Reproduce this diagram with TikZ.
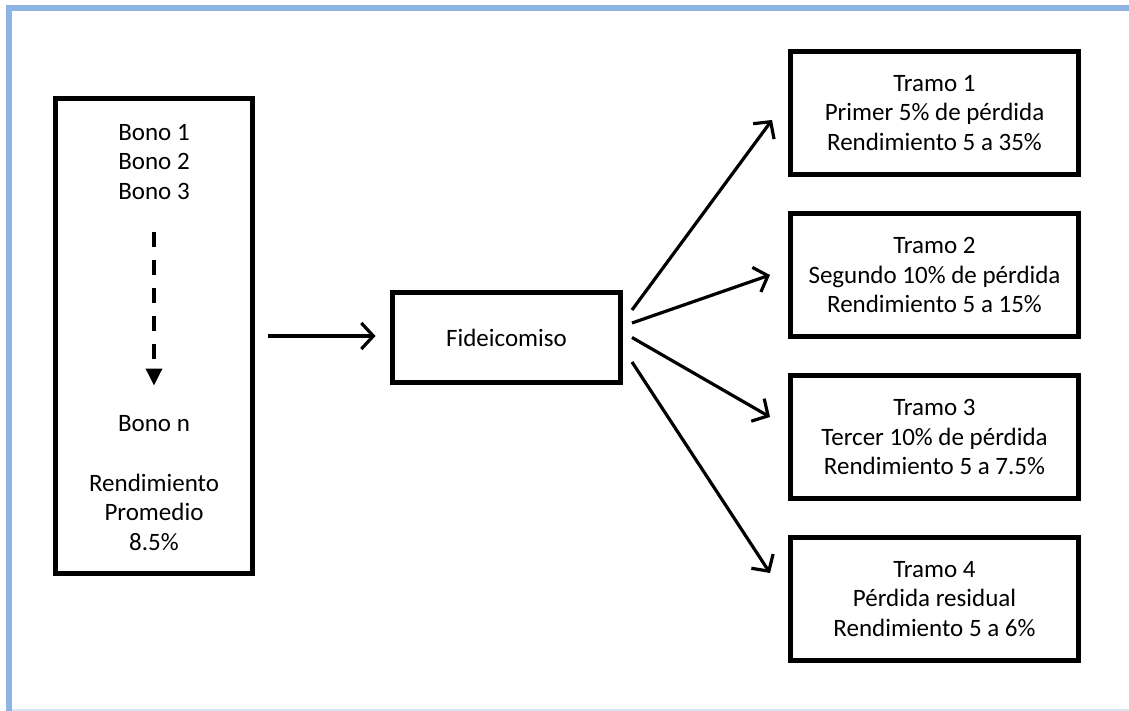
\documentclass[tikz,border=0pt]{standalone}
\usepackage{fontspec}
\setmainfont{Carlito}
\usetikzlibrary{arrows.meta,calc}
\definecolor{frameblue}{RGB}{141,180,227}
\definecolor{framelight}{RGB}{218,229,243}
\tikzset{
  box/.style={draw=black, line width=5pt, rectangle, outer sep=0pt, inner sep=0pt, align=center,
    font=\fontsize{25}{29.5}\selectfont},
  txt/.style={align=center, inner sep=0pt, font=\fontsize{25}{29.5}\selectfont},
  arr/.style={line width=3.2pt, -{Straight Barb[length=12pt,width=26pt,line width=3.2pt]}},
  dasharr/.style={line width=3.5pt, dash pattern=on 15pt off 13pt, -{Triangle[length=17pt,width=16pt]}}
}
\begin{document}
\begin{tikzpicture}[x=1pt,y=-1pt]
\useasboundingbox (0,0) rectangle (1129,711);
% frame
\fill[frameblue] (6,5) rectangle (1129,11);
\fill[frameblue] (6,5) rectangle (12,711);
\fill[framelight] (12,709) rectangle (1129,711);
% boxes
\node[box, minimum width=197pt, minimum height=475pt] (bonds) at (154,336) {};
\node[txt] (b123) at (154,162) {Bono 1\\Bono 2\\Bono 3};
\node[txt] (bn) at (154,424) {Bono n};
\node[txt] (rp) at (154,512) {Rendimiento\\Promedio\\8.5\%};
\coordinate (dstart) at ($(bonds.north)+(0,133.5)$);
\coordinate (dend) at ($(bonds.north)+(0,287)$);
\draw[dasharr] (dstart) -- (dend);

\node[box, minimum width=228pt, minimum height=90pt] (fid) at (506.5,337.5) {Fideicomiso};

\node[box, minimum width=288pt, minimum height=123pt] (t1) at (934.5,113) {Tramo 1\\Primer 5\% de pérdida\\Rendimiento 5 a 35\%};
\node[box, minimum width=288pt, minimum height=123pt] (t2) at (934.5,275) {Tramo 2\\Segundo 10\% de pérdida\\Rendimiento 5 a 15\%};
\node[box, minimum width=288pt, minimum height=123pt] (t3) at (934.5,437) {Tramo 3\\Tercer 10\% de pérdida\\Rendimiento 5 a 7.5\%};
\node[box, minimum width=288pt, minimum height=123pt] (t4) at (934.5,599) {Tramo 4\\Pérdida residual\\Rendimiento 5 a 6\%};

% connectors
\draw[arr] ($(bonds.east)+(15.5,0)$) -- ($(fid.west)+(-17,-1.5)$);
\draw[arr] ($(fid.east)+(11.5,-27.5)$) -- ($(t1.west)+(-18.5,7)$);
\draw[arr] ($(fid.east)+(11.5,-14.5)$) -- ($(t2.west)+(-20.5,0)$);
\draw[arr] ($(fid.east)+(11.5,0)$) -- ($(t3.west)+(-20.5,-20)$);
\draw[arr] ($(fid.east)+(11.5,24.5)$) -- ($(t4.west)+(-20.5,-26)$);
\end{tikzpicture}
\end{document}
